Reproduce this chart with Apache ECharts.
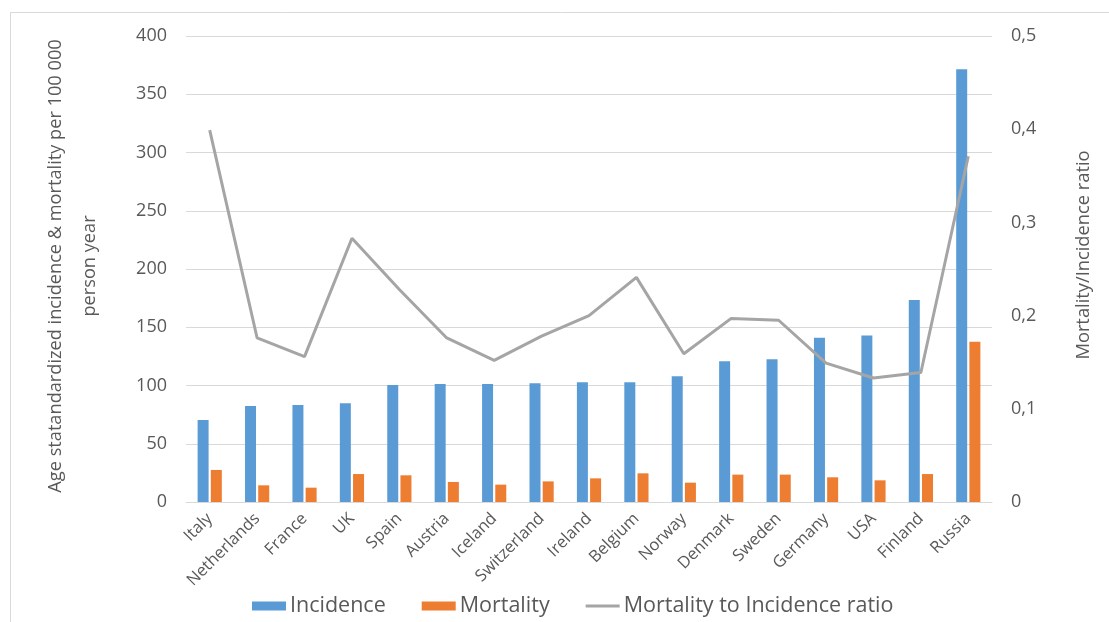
<!DOCTYPE html>
<html>
<head>
<meta charset="utf-8">
<script src="https://cdn.jsdelivr.net/npm/echarts@6/dist/echarts.min.js"></script>
<style>
  html, body { margin: 0; padding: 0; background: #fff; }
  #chart { width: 1109px; height: 622px; }
</style>
</head>
<body>
<div id="chart"></div>
<script>
// Countries on the category axis
const countries = ['Italy', 'Netherlands', 'France', 'UK', 'Spain', 'Austria', 'Iceland',
  'Switzerland', 'Ireland', 'Belgium', 'Norway', 'Denmark', 'Sweden', 'Germany', 'USA',
  'Finland', 'Russia'];

// Age standardized rates per 100 000 person years
const incidence = [70.4, 82.4, 83.3, 84.7, 100.4, 101.3, 101.3, 101.9, 102.7, 102.7, 107.9,
  120.8, 122.5, 141, 143, 173.4, 371.4];
const mortality = [27.5, 14.3, 12.3, 24, 22.9, 17.2, 14.9, 17.7, 20.3, 24.6, 16.6,
  23.5, 23.5, 21.2, 18.6, 24, 137.6];

// Mortality / incidence ratio
const ratio = [0.399, 0.176, 0.156, 0.283, 0.228, 0.176, 0.152, 0.178, 0.2, 0.241, 0.159,
  0.197, 0.195, 0.149, 0.133, 0.139, 0.371];

const FONT = 'Open Sans';
const TEXT = '#595959';

const chart = echarts.init(document.getElementById('chart'), null, { renderer: 'canvas' });

chart.setOption({
  animation: false,
  backgroundColor: '#ffffff',
  textStyle: { fontFamily: FONT, color: TEXT },
  grid: { left: 186, right: 117, top: 36, bottom: 120 },
  legend: {
    top: 590,
    left: 247,
    itemGap: 36,
    itemWidth: 34,
    itemHeight: 9,
    textStyle: { fontFamily: FONT, fontSize: 21.5, color: TEXT, padding: [0, 0, 0, -1] },
    data: [
      { name: 'Incidence', icon: 'rect' },
      { name: 'Mortality', icon: 'rect' },
      { name: 'Mortality to Incidence ratio', icon: 'path://M0,3 L34,3 L34,6 L0,6 Z' }
    ]
  },
  xAxis: {
    type: 'category',
    data: countries,
    axisLine: { lineStyle: { color: '#d9d9d9', width: 1 } },
    axisTick: { show: false },
    axisLabel: {
      rotate: 45,
      interval: 0,
      fontFamily: FONT,
      fontSize: 16.5,
      color: TEXT,
      margin: 14
    }
  },
  yAxis: [
    {
      type: 'value',
      min: 0,
      max: 400,
      interval: 50,
      axisLine: { show: false },
      axisTick: { show: false },
      splitLine: { lineStyle: { color: '#d9d9d9', width: 1 } },
      axisLabel: { fontFamily: FONT, fontSize: 18, color: TEXT, margin: 19 }
    },
    {
      type: 'value',
      min: 0,
      max: 0.5,
      interval: 0.1,
      axisLine: { show: false },
      axisTick: { show: false },
      splitLine: { show: false },
      axisLabel: {
        fontFamily: FONT, fontSize: 18, color: TEXT, margin: 19,
        formatter: v => String(Math.round(v * 10) / 10).replace('.', ',')
      }
    }
  ],
  series: [
    {
      name: 'Incidence',
      type: 'bar',
      data: incidence,
      barWidth: 11,
      barGap: '20%',
      itemStyle: { color: '#5b9bd5' }
    },
    {
      name: 'Mortality',
      type: 'bar',
      data: mortality,
      barWidth: 11,
      itemStyle: { color: '#ed7d31' }
    },
    {
      name: 'Mortality to Incidence ratio',
      type: 'line',
      yAxisIndex: 1,
      data: ratio,
      symbol: 'none',
      lineStyle: { color: '#a5a5a5', width: 3 },
      itemStyle: { color: '#a5a5a5' }
    }
  ],
  graphic: [
    {
      type: 'rect',
      silent: true,
      shape: { x: 10.5, y: 12.5, width: 1110, height: 620 },
      style: { fill: 'none', stroke: '#d9d9d9', lineWidth: 1 }
    },
    {
      type: 'text',
      x: 73,
      y: 266,
      rotation: Math.PI / 2,
      style: {
        text: 'Age statandardized incidence & mortality per 100 000\nperson year',
        fontFamily: FONT,
        fontSize: 18.2,
        lineHeight: 34,
        fill: TEXT,
        textAlign: 'center',
        textVerticalAlign: 'middle'
      }
    },
    {
      type: 'text',
      x: 1084,
      y: 255,
      rotation: Math.PI / 2,
      style: {
        text: 'Mortality/Incidence ratio',
        fontFamily: FONT,
        fontSize: 18.3,
        fill: TEXT,
        textAlign: 'center',
        textVerticalAlign: 'middle'
      }
    }
  ]
});
</script>
</body>
</html>
